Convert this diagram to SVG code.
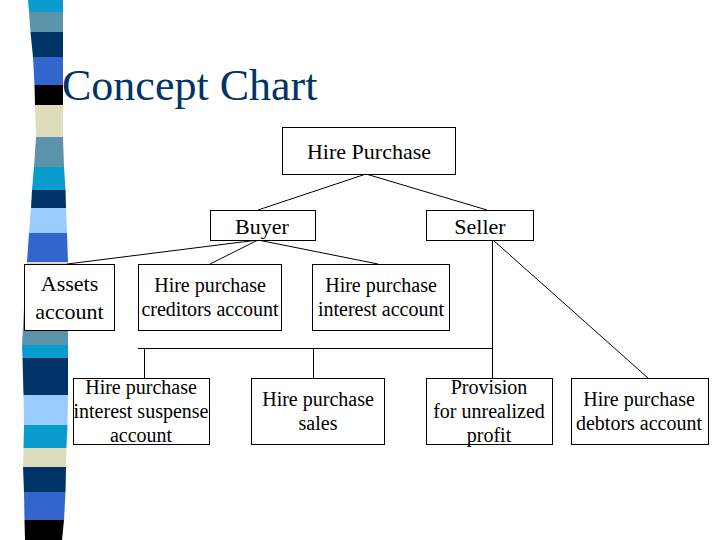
<svg xmlns="http://www.w3.org/2000/svg" width="720" height="540" viewBox="0 0 720 540">
<style>
.box{fill:#fff;stroke:#000;stroke-width:1}
.t{font-family:"Liberation Serif","Times New Roman",serif;fill:#000;text-anchor:middle}
.big{font-size:22px}
.sm{font-size:20px}
.ln{stroke:#000;stroke-width:1;fill:none}
</style>
<rect width="720" height="540" fill="#fff"/>
<g id="strip">
<polygon points="28,0 63,0 63,12 29,12" fill="#0a9ccf"/>
<polygon points="29,12 63,12 63,32 30.5,32" fill="#5b93ab"/>
<polygon points="30.5,32 63,32 63,57 33,57" fill="#003366"/>
<polygon points="33,57 63,57 63,85 34.5,85" fill="#3366cc"/>
<polygon points="34.5,85 63,85 63,105 35,105" fill="#000000"/>
<polygon points="35,105 63,105 63,137 36,137" fill="#ddddbb"/>
<polygon points="36,137 63,137 64,167 34,167" fill="#5b93ab"/>
<polygon points="34,167 64,167 65.5,190 32,190" fill="#0a9ccf"/>
<polygon points="32,190 65.5,190 66,208 31,208" fill="#003366"/>
<polygon points="31,208 66,208 67,233 29,233" fill="#99ccff"/>
<polygon points="29,233 67,233 68,262 27,262" fill="#3366cc"/>
<polygon points="27,262 68,262 68,300 24.5,300" fill="#ddddbb"/>
<polygon points="24.5,300 68,300 68,345 22,345" fill="#5b93ab"/>
<polygon points="22,345 68,345 68,358 22.5,358" fill="#0a9ccf"/>
<polygon points="22.5,358 68,358 68,395 23.5,395" fill="#003366"/>
<polygon points="23.5,395 68,395 67.5,425 24,425" fill="#99ccff"/>
<polygon points="24,425 67.5,425 66.5,448 23.5,448" fill="#0a9ccf"/>
<polygon points="23.5,448 66.5,448 66,467 23,467" fill="#ddddbb"/>
<polygon points="23,467 66,467 65.5,492 24,492" fill="#003366"/>
<polygon points="24,492 65.5,492 64,520 24.5,520" fill="#3366cc"/>
<polygon points="24.5,520 64,520 62,540 25,540" fill="#000000"/>
</g>
<text x="62" y="100" style="font-family:'Liberation Serif','Times New Roman',serif;font-size:44px;fill:#003366">Concept Chart</text>
<g id="connectors" class="ln">
<path class="ln" d="M366,174 L258,210"/>
<path class="ln" d="M366,174 L487,210"/>
<path class="ln" d="M258,240 L67,264"/>
<path class="ln" d="M258,240 L210,264"/>
<path class="ln" d="M258,240 L378,264"/>
<path class="ln" d="M492.5,240 V378"/>
<path class="ln" d="M138,348.5 H492.5"/>
<path class="ln" d="M144.5,348 V378"/>
<path class="ln" d="M313.5,348 V378"/>
<path class="ln" d="M493,240 L648,378"/>
</g>
<g id="hire-purchase"><rect class="box" x="282.5" y="127.5" width="173" height="47"/><text class="t big" x="369" y="159">Hire Purchase</text></g>
<g id="buyer"><rect class="box" x="210.5" y="210.5" width="105" height="30"/><text class="t big" x="262" y="234">Buyer</text></g>
<g id="seller"><rect class="box" x="426.5" y="210.5" width="107" height="30"/><text class="t big" x="480" y="234">Seller</text></g>
<g id="assets"><rect class="box" x="24.5" y="264.5" width="90" height="66"/><text class="t big" x="69.5" y="291">Assets</text><text class="t big" x="69.5" y="319">account</text></g>
<g id="creditors"><rect class="box" x="138.5" y="264.5" width="143" height="66"/><text class="t sm" x="210" y="292">Hire purchase</text><text class="t sm" x="210" y="316">creditors account</text></g>
<g id="interest"><rect class="box" x="312.5" y="264.5" width="137" height="66"/><text class="t sm" x="381" y="292">Hire purchase</text><text class="t sm" x="381" y="316">interest account</text></g>
<g id="suspense"><rect class="box" x="73.5" y="378.5" width="136" height="66"/><text class="t sm" x="141" y="394">Hire purchase</text><text class="t sm" x="141" y="418">interest suspense</text><text class="t sm" x="141" y="442">account</text></g>
<g id="sales"><rect class="box" x="251.5" y="378.5" width="133" height="66"/><text class="t sm" x="318" y="406">Hire purchase</text><text class="t sm" x="318" y="430">sales</text></g>
<g id="provision"><rect class="box" x="426.5" y="378.5" width="126" height="66"/><text class="t sm" x="489" y="394">Provision</text><text class="t sm" x="489" y="418">for unrealized</text><text class="t sm" x="489" y="442">profit</text></g>
<g id="debtors"><rect class="box" x="571.5" y="378.5" width="137" height="66"/><text class="t sm" x="639" y="406">Hire purchase</text><text class="t sm" x="639" y="430">debtors account</text></g>
</svg>
